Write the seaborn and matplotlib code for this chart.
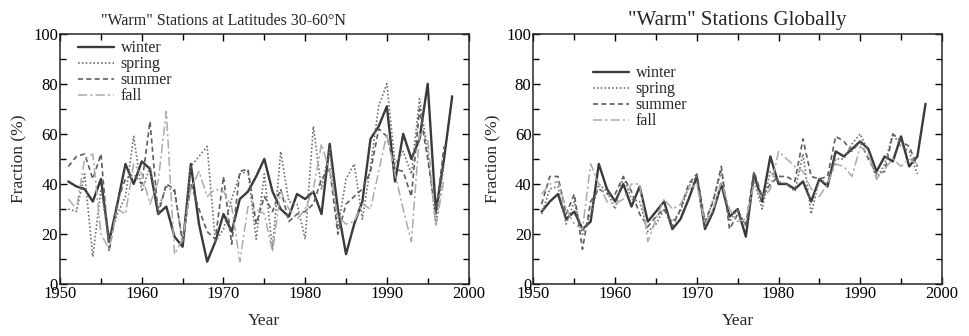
# "Warm" station fractions by season, 1951-1998
import pandas as pd
import matplotlib
matplotlib.use("Agg")
import matplotlib.pyplot as plt
import seaborn as sns
from matplotlib.ticker import MultipleLocator

# years: winter runs one year longer than the other seasons
years_winter = list(range(1951, 1999))
years_other = list(range(1951, 1998))

# latitudes 30-60N
lat_winter = [41, 39, 38, 33, 42, 17, 32, 48, 40, 49, 46, 28, 31, 19, 15, 48, 24, 9, 17, 28,
              21, 34, 37, 43, 50, 37, 30, 27, 36, 34, 37, 28, 56, 30, 12, 24, 33, 58, 63, 71,
              41, 60, 50, 58, 80, 29, 50, 75]
lat_spring = [30, 29, 44, 11, 38, 17, 28, 35, 59, 37, 47, 30, 39, 37, 17, 47, 51, 55, 17, 22,
              34, 44, 45, 18, 44, 14, 53, 33, 32, 18, 63, 38, 54, 22, 42, 48, 26, 47, 71, 80,
              48, 53, 44, 74, 53, 24, 48]
lat_summer = [47, 51, 52, 42, 52, 13, 33, 42, 44, 40, 65, 28, 40, 38, 16, 40, 30, 21, 18, 43,
              16, 45, 46, 24, 35, 29, 38, 25, 28, 29, 32, 42, 46, 20, 32, 35, 38, 45, 62, 59,
              46, 45, 35, 70, 50, 28, 55]
lat_fall = [34, 30, 50, 52, 20, 14, 30, 28, 48, 44, 32, 41, 69, 12, 18, 38, 45, 35, 38, 37,
            31, 9, 31, 30, 28, 13, 37, 30, 26, 30, 38, 56, 45, 27, 24, 25, 32, 30, 45, 60,
            44, 30, 17, 60, 58, 23, 42]

# global
glob_winter = [29, 33, 36, 26, 29, 22, 25, 48, 38, 33, 40, 31, 39, 25, 29, 33, 22, 26, 34, 43,
               22, 29, 40, 27, 30, 19, 44, 33, 51, 40, 40, 38, 41, 33, 42, 39, 53, 51, 54, 57,
               54, 45, 51, 49, 59, 47, 51, 72]
glob_spring = [28, 38, 39, 24, 33, 20, 28, 40, 37, 30, 43, 34, 33, 21, 24, 30, 25, 29, 39, 43,
               23, 34, 45, 25, 30, 23, 42, 30, 45, 41, 40, 37, 52, 28, 42, 40, 50, 50, 56, 60,
               53, 42, 48, 60, 55, 53, 44]
glob_summer = [32, 43, 43, 28, 36, 14, 33, 38, 36, 36, 43, 37, 28, 23, 27, 30, 23, 30, 40, 44,
               25, 33, 47, 22, 28, 24, 45, 35, 40, 43, 43, 41, 58, 43, 42, 43, 59, 57, 53, 57,
               50, 44, 45, 60, 57, 55, 47]
glob_fall = [36, 40, 41, 30, 24, 22, 48, 40, 33, 32, 34, 40, 40, 17, 26, 34, 30, 32, 38, 40,
             24, 30, 41, 30, 25, 26, 40, 34, 38, 53, 50, 47, 45, 38, 35, 40, 48, 47, 43, 55,
             52, 42, 46, 50, 47, 50, 48]

seasons = ["winter", "spring", "summer", "fall"]
palette = {"winter": "#3a3a3a", "spring": "#707070", "summer": "#5e5e5e", "fall": "#ababab"}
dashes = {"winter": "", "spring": (1, 1.3), "summer": (3, 2), "fall": (6, 2, 1.5, 2)}
widths = {"winter": 1.7, "spring": 1.2, "summer": 1.2, "fall": 1.1}


def long_form(winter, spring, summer, fall):
    parts = [pd.DataFrame({"Year": years_winter, "Fraction": winter, "season": "winter"})]
    for name, vals in [("spring", spring), ("summer", summer), ("fall", fall)]:
        parts.append(pd.DataFrame({"Year": years_other, "Fraction": vals, "season": name}))
    return pd.concat(parts, ignore_index=True)


sns.set_style("ticks")
plt.rcParams["font.family"] = ["Liberation Serif", "DejaVu Serif"]
plt.rcParams["axes.linewidth"] = 1.1

fig, axes = plt.subplots(1, 2, figsize=(9.7, 3.36), dpi=100)
fig.subplots_adjust(left=0.062, right=0.971, bottom=0.154, top=0.900, wspace=0.159)

panels = [
    (long_form(lat_winter, lat_spring, lat_summer, lat_fall),
     '"Warm" Stations at Latitudes 30-60\u00b0N', 11.5, 0.40, (0.043, 0.973)),
    (long_form(glob_winter, glob_spring, glob_summer, glob_fall),
     '"Warm" Stations Globally', 15, 0.50, (0.145, 0.873)),
]

for ax, (df, title, tsize, tx, legpos) in zip(axes, panels):
    sns.lineplot(data=df, x="Year", y="Fraction", hue="season", style="season",
                 size="season", hue_order=seasons, style_order=seasons, size_order=seasons,
                 palette=palette, dashes=dashes, sizes=widths, ax=ax)
    ax.set_xlim(1950, 2000)
    ax.set_ylim(0, 100)
    ax.xaxis.set_major_locator(MultipleLocator(10))
    ax.xaxis.set_minor_locator(MultipleLocator(5))
    ax.yaxis.set_major_locator(MultipleLocator(20))
    ax.yaxis.set_minor_locator(MultipleLocator(10))
    ax.tick_params(which="both", direction="in", top=True, right=True,
                   labelsize=12, pad=1.5, colors="black")
    ax.tick_params(which="major", length=5, width=1)
    ax.tick_params(which="minor", length=4, width=1)
    ax.set_xlabel("Year", fontsize=12.5, labelpad=8)
    ax.set_ylabel("Fraction (%)", fontsize=12.5, labelpad=4)
    ax.set_title(title, fontsize=tsize, x=tx, pad=6)
    handles, labels = ax.get_legend_handles_labels()
    ax.legend(handles, labels, loc="upper left", bbox_to_anchor=legpos, frameon=False,
              fontsize=11.5, handlelength=2.3, handletextpad=0.4, labelspacing=0.0,
              borderaxespad=0, borderpad=0)

fig.savefig("out.png", dpi=100)
